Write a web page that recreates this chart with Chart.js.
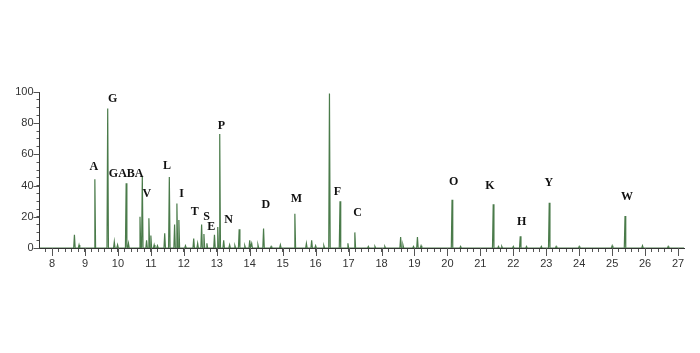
<!DOCTYPE html>
<html>
<head>
<meta charset="utf-8">
<script src="https://cdn.jsdelivr.net/npm/chart.js@4.4.1/dist/chart.umd.min.js"></script>
<style>
  html, body { margin: 0; padding: 0; background: #fff; }
  #chrom { display: block; }
</style>
</head>
<body>
<canvas id="chrom" width="700" height="353"></canvas>
<script>
// --- data (retention time in min, relative intensity) ---
const peakTimes = [
  8.68, 8.82, 9.30, 9.69, 9.89, 9.99, 10.25, 10.32, 10.67, 10.74,
  10.87, 10.94, 11.00, 11.10, 11.20, 11.42, 11.56, 11.72, 11.79, 11.85,
  12.05, 12.30, 12.42, 12.54, 12.61, 12.70, 12.93, 13.03, 13.09, 13.21,
  13.39, 13.55, 13.68, 13.85, 14.00, 14.06, 14.25, 14.42, 14.65, 14.93,
  15.37, 15.72, 15.88, 16.00, 16.25, 16.42, 16.74, 16.98, 17.19, 17.60,
  17.80, 18.10, 18.58, 18.65, 18.97, 19.09, 19.20, 20.14, 20.40, 21.39,
  21.55, 21.65, 22.00, 22.21, 22.40, 22.85, 23.09, 23.30, 24.00, 25.00,
  25.39, 25.92, 26.70
];
const peakHeights = [
  8.5, 2, 44, 89.5, 4, 2, 41.5, 3, 20, 46,
  5, 19, 8, 2, 1.5, 9.5, 45.5, 15, 28.5, 18,
  1.5, 6, 3, 15, 9, 3, 8.5, 13.5, 73, 5,
  2, 1.5, 12, 1.5, 5, 3, 2, 12.5, 1, 2,
  22, 3, 5, 1.5, 1.5, 99, 30, 3, 10, 1,
  1, 1, 7, 2, 1, 7, 1.5, 31, 1, 28,
  1, 1, 1, 7.5, 1, 1, 29, 1, 1, 1.5,
  20.5, 1.5, 1
];

// peak annotations: name, x (min), y (intensity) of label centre
const labelNames = ['A', 'G', 'GABA', 'V', 'L', 'I', 'T', 'S', 'E', 'P', 'N', 'D', 'M', 'F', 'C', 'O', 'K', 'H', 'Y', 'W'];
const labelX = [9.27, 9.84, 10.25, 10.88, 11.49, 11.93, 12.33, 12.69, 12.83, 13.14, 13.36, 14.49, 15.42, 16.66, 17.27, 20.19, 21.29, 22.25, 23.08, 25.45];
const labelY = [52, 95.5, 47.5, 34.5, 52.5, 34.5, 23, 20, 13.5, 78.5, 18, 27.5, 31.5, 36, 22.5, 42.5, 39.5, 16.5, 41.5, 32.5];

const xMin = 7.62, xMax = 27.18;
const yTicksMajor = 20;

// build the trace: baseline -> apex -> baseline for every peak
const HALF = 0.022;
const trace = [{ x: xMin, y: 0 }];
peakTimes.forEach((t, i) => {
  trace.push({ x: t - HALF, y: 0 }, { x: t, y: peakHeights[i] }, { x: t + HALF, y: 0 });
});
trace.push({ x: xMax, y: 0 });
trace.sort((a, b) => a.x - b.x);

const isInt = v => Math.abs(v - Math.round(v)) < 1e-6;

// longer tick marks on integer minutes and on every 20 units
const majorTicks = {
  id: 'majorTicks',
  afterDraw(chart) {
    const { ctx, scales: { x, y } } = chart;
    ctx.save();
    ctx.strokeStyle = '#555';
    ctx.lineWidth = 1;
    ctx.beginPath();
    for (let v = Math.ceil(xMin); v <= xMax; v++) {
      const px = Math.round(x.getPixelForValue(v)) + 0.5;
      ctx.moveTo(px, y.bottom);
      ctx.lineTo(px, y.bottom + 8);
    }
    for (let v = 0; v <= 100; v += yTicksMajor) {
      const py = Math.round(y.getPixelForValue(v)) + 0.5;
      ctx.moveTo(x.left - 6, py);
      ctx.lineTo(x.left, py);
    }
    ctx.stroke();
    ctx.restore();
  }
};

const peakLabels = {
  id: 'peakLabels',
  afterDatasetsDraw(chart) {
    const { ctx, scales: { x, y } } = chart;
    ctx.save();
    ctx.font = "bold 12px 'Liberation Serif', 'Times New Roman', serif";
    ctx.fillStyle = '#111';
    ctx.textAlign = 'center';
    ctx.textBaseline = 'middle';
    labelNames.forEach((n, i) => {
      ctx.fillText(n, x.getPixelForValue(labelX[i]), y.getPixelForValue(labelY[i]));
    });
    ctx.restore();
  }
};

new Chart(document.getElementById('chrom'), {
  type: 'line',
  data: {
    datasets: [{
      data: trace,
      borderColor: '#4a7b4a',
      borderWidth: 1.2,
      pointRadius: 0,
      tension: 0,
      fill: false
    }]
  },
  options: {
    responsive: false,
    animation: false,
    layout: { padding: { left: 0, right: 16, top: 92, bottom: 75 } },
    plugins: { legend: { display: false }, tooltip: { enabled: false } },
    scales: {
      x: {
        type: 'linear',
        min: xMin, max: xMax,
        afterFit: s => { s.height = 30; },
        border: { display: true, color: '#333', width: 1 },
        grid: { drawOnChartArea: false, drawTicks: true, tickLength: 4, color: '#555' },
        ticks: {
          stepSize: 0.2,
          includeBounds: false,
          autoSkip: false,
          maxRotation: 0,
          padding: 5,
          color: '#333',
          font: { family: "'Liberation Sans', Arial, sans-serif", size: 11 },
          callback: v => isInt(v) ? Math.round(v) : ''
        }
      },
      y: {
        min: 0, max: 100,
        afterFit: s => { s.width = 39.5; },
        border: { display: true, color: '#333', width: 1 },
        grid: { drawOnChartArea: false, drawTicks: true, tickLength: 3, color: '#555' },
        ticks: {
          stepSize: 5,
          autoSkip: false,
          padding: 3,
          color: '#333',
          font: { family: "'Liberation Sans', Arial, sans-serif", size: 11 },
          callback: v => v % yTicksMajor === 0 ? v : ''
        }
      }
    }
  },
  plugins: [majorTicks, peakLabels]
});
</script>
</body>
</html>
